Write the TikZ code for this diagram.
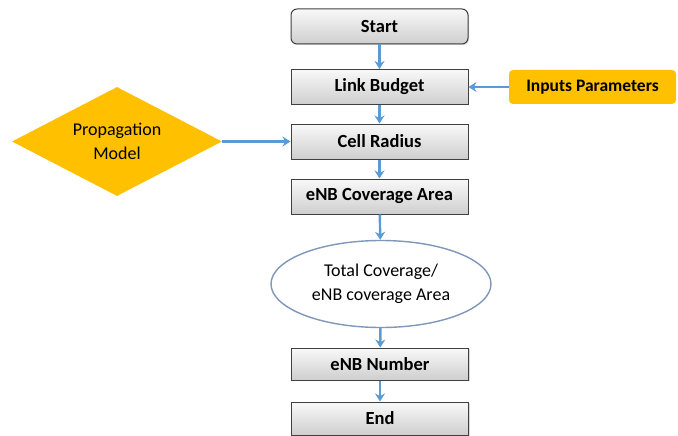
\documentclass[tikz,border=0pt]{standalone}
\usepackage{fontspec}
\setmainfont{Carlito}
\usetikzlibrary{shapes.geometric,arrows.meta,shadows}
\definecolor{arrowblue}{HTML}{5B9BD5}
\definecolor{gold}{HTML}{FFC000}
\definecolor{boxedge}{HTML}{404040}
\definecolor{ellipseedge}{HTML}{7F97B8}
\tikzset{
  procbox/.style={draw=boxedge, line width=1pt, top color=gray!5, bottom color=gray!38,
    minimum width=177pt, minimum height=35pt, font=\fontsize{18.5}{20}\selectfont\bfseries, inner sep=0pt,
    drop shadow={shadow xshift=1pt, shadow yshift=-1pt, opacity=0.3}},
  flow/.style={draw=arrowblue, line width=2.4pt, -{Stealth[length=8pt,width=10pt]}},
}
\begin{document}
\begin{tikzpicture}[x=1pt,y=-1pt]
\useasboundingbox (0,0) rectangle (678,436);
\node[procbox, rounded corners=6pt] (start) at (379.5,26.5) {Start};
\node[procbox] (link) at (379.5,87) {Link Budget};
\node[procbox] (cell) at (379.5,141.5) {Cell Radius};
\node[procbox] (cov) at (379.5,196.5) {eNB Coverage Area};
\node[draw=ellipseedge, line width=1.4pt, fill=white, ellipse, minimum width=220pt, minimum height=87pt,
  inner sep=0pt, align=center, font=\fontsize{18}{24}\selectfont] (tot) at (381,284) {Total Coverage/\\eNB coverage Area};
\node[procbox, minimum height=32pt] (num) at (380,364) {eNB Number};
\node[procbox, minimum height=33pt] (end) at (380,418.5) {End};
\node[fill=gold, rounded corners=4pt, minimum width=167pt, minimum height=34pt, inner sep=0pt,
  font=\fontsize{17.5}{20}\selectfont\bfseries] (inp) at (592.5,87) {Inputs Parameters};
\node[fill=gold, diamond, minimum width=210pt, minimum height=109pt, inner sep=0pt, aspect=1.93,
  align=center, font=\fontsize{18}{24}\selectfont] (prop) at (117,141.5) {Propagation\\Model};
\draw[flow] (start) -- (link);
\draw[flow] (link) -- (cell);
\draw[flow] (cell) -- (cov);
\draw[flow] (cov) -- (tot);
\draw[flow] (tot) -- (num);
\draw[flow] (num) -- (end);
\draw[flow] (inp) -- (link);
\draw[flow] (prop) -- (cell);
\end{tikzpicture}
\end{document}
